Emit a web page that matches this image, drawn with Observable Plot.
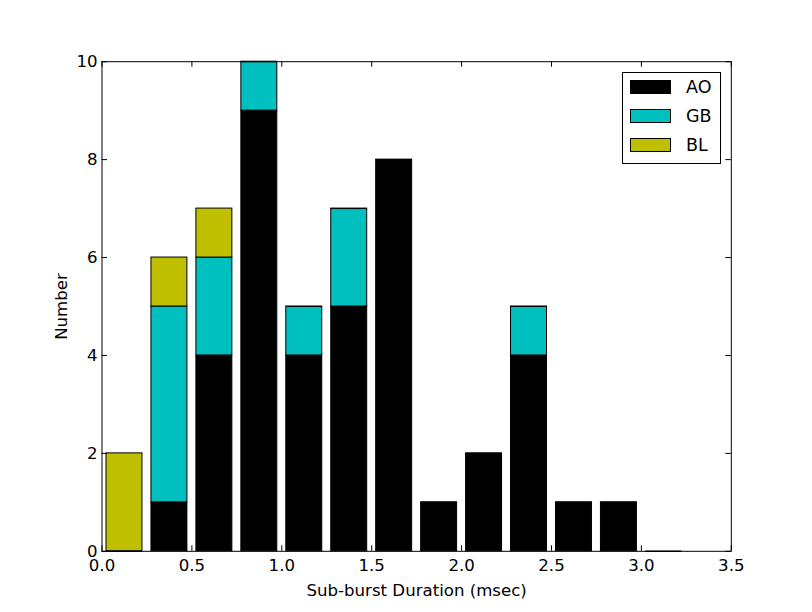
<!DOCTYPE html>
<html>
<head>
<meta charset="utf-8">
<script src="https://cdn.jsdelivr.net/npm/d3@7"></script>
<script src="https://cdn.jsdelivr.net/npm/@observablehq/plot@0.6"></script>
<style>
  body { margin: 0; background: #fff; font-family: "DejaVu Sans", sans-serif; }
  #wrap { position: relative; width: 812px; height: 612px; }
  #legend { position: absolute; left: 622px; top: 72px; width: 99px; height: 92px;
            border: 1px solid #000; background: #fff; box-sizing: border-box; }
  .row { position: absolute; left: 7px; height: 14px; display: flex; align-items: center; }
  .sw { width: 41px; height: 14px; box-sizing: border-box; border: 1px solid #000; }
  .lab { margin-left: 15px; font-size: 17.5px; line-height: 14px; }
</style>
</head>
<body>
<div id="wrap"></div>
<script>
// Data
const binStarts = [0, 0.25, 0.5, 0.75, 1.0, 1.25, 1.5, 1.75, 2.0, 2.25, 2.5, 2.75, 3.0];
const aoCounts  = [0, 1, 4, 9, 4, 5, 8, 1, 2, 4, 1, 1, 0];
const gbCounts  = [0, 4, 2, 1, 1, 2, 0, 0, 0, 1, 0, 0, 0];
const blCounts  = [2, 1, 1, 0, 0, 0, 0, 0, 0, 0, 0, 0, 0];
const seriesNames = ["AO", "GB", "BL"];
const seriesColors = ["#000000", "#00bfbf", "#bfbf00"];
const xTicks = [0, 0.5, 1.0, 1.5, 2.0, 2.5, 3.0, 3.5];
const yTicks = [0, 2, 4, 6, 8, 10];
const xLabel = "Sub-burst Duration (msec)";
const yLabel = "Number";

const binWidth = 0.25, rwidth = 0.8;
const seriesCounts = [aoCounts, gbCounts, blCounts];

// stacked rows
const rows = [];
binStarts.forEach((b, i) => {
  let base = 0;
  seriesCounts.forEach((arr, s) => {
    const pad = binWidth * (1 - rwidth) / 2;
    rows.push({series: seriesNames[s], x1: b + pad, x2: b + binWidth - pad, y1: base, y2: base + arr[i]});
    base += arr[i];
  });
});
const zeroRows = rows.filter(r => r.y1 === r.y2);

const W = 812, H = 612;
const mL = 101.5, mR = 81.2, mT = 61.2, mB = 61.2;
const fw = W - mL - mR, fh = H - mT - mB, tk = 5.5;

const chart = Plot.plot({
  width: W, height: H,
  marginLeft: mL, marginRight: mR, marginTop: mT, marginBottom: mB,
  style: {fontFamily: "DejaVu Sans, sans-serif", fontSize: "16.6px", color: "#000", background: "#fff"},
  x: {domain: [0, 3.5]},
  y: {domain: [0, 10]},
  color: {domain: seriesNames, range: seriesColors},
  marks: [
    Plot.rect(rows, {x1: "x1", x2: "x2", y1: "y1", y2: "y2", fill: "series", stroke: "#000", strokeWidth: 1}),
    Plot.ruleY(zeroRows, {y: "y1", x1: "x1", x2: "x2", stroke: "#000", strokeWidth: 1}),
    Plot.axisX(xTicks, {tickSize: 0, tickPadding: 8, tickFormat: d3.format(".1f"), label: null, fontSize: "16.6px"}),
    Plot.axisY(yTicks, {tickSize: 0, tickPadding: 4.5, tickFormat: d3.format("d"), label: null, fontSize: "16.6px"}),
    Plot.ruleX(xTicks, {insetTop: fh - tk, stroke: "#000"}),
    Plot.ruleX(xTicks, {insetBottom: fh - tk, stroke: "#000"}),
    Plot.ruleY(yTicks, {insetRight: fw - tk, stroke: "#000"}),
    Plot.ruleY(yTicks, {insetLeft: fw - tk, stroke: "#000"}),
    Plot.frame({stroke: "#000", strokeWidth: 1}),
    Plot.text([xLabel], {text: d => d, frameAnchor: "bottom", dy: 39, textAnchor: "middle", lineAnchor: "middle", fontSize: "16.6px"}),
    Plot.text([yLabel], {text: d => d, frameAnchor: "left", dx: -40, rotate: -90, textAnchor: "middle", lineAnchor: "middle", fontSize: "16.6px"})
  ]
});

const wrap = document.getElementById("wrap");
wrap.appendChild(chart);

// Legend
const legend = document.createElement("div");
legend.id = "legend";
seriesNames.forEach((name, i) => {
  const row = document.createElement("div");
  row.className = "row";
  row.style.top = (7 + i * 29) + "px";
  const sw = document.createElement("div");
  sw.className = "sw";
  sw.style.background = seriesColors[i];
  const lab = document.createElement("span");
  lab.className = "lab";
  lab.textContent = name;
  row.appendChild(sw); row.appendChild(lab);
  legend.appendChild(row);
});
wrap.appendChild(legend);
</script>
</body>
</html>
